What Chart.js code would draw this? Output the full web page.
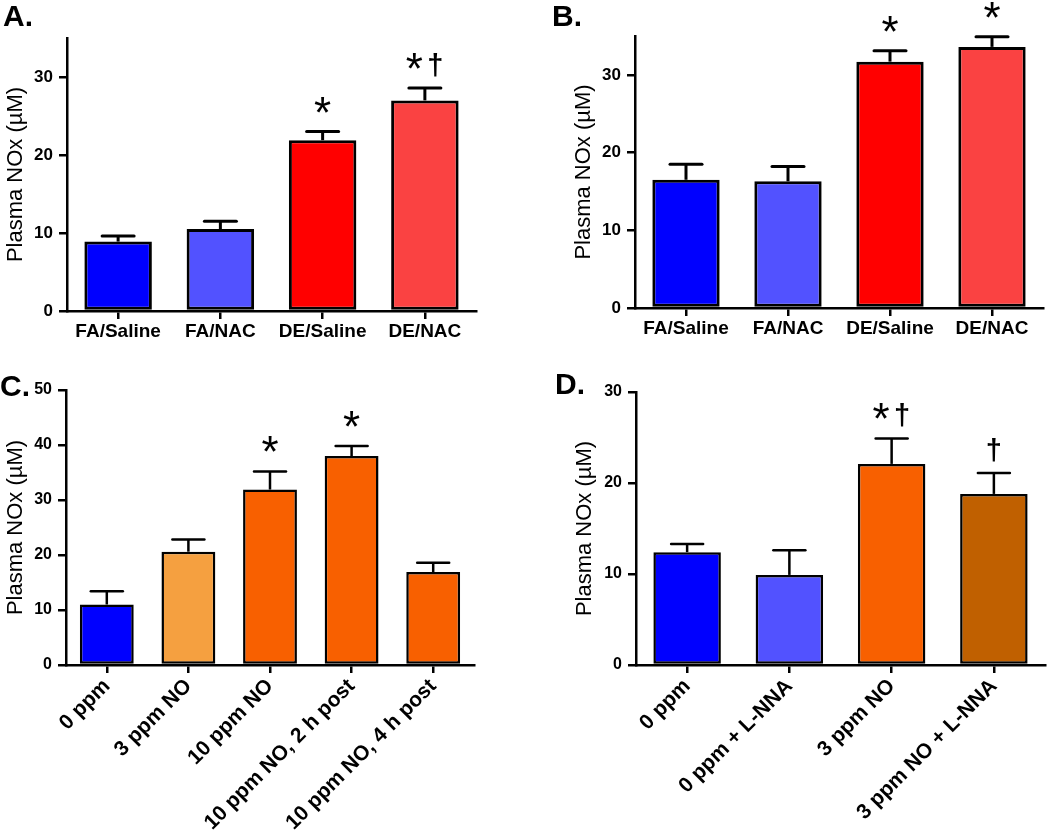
<!DOCTYPE html>
<html>
<head>
<meta charset="utf-8">
<script src="https://cdn.jsdelivr.net/npm/chart.js@4"></script>
<style>
  body { margin: 0; background: #fff; width: 1050px; height: 832px; position: relative; overflow: hidden; }
  .panel { position: absolute; }
  .tag { position: absolute; font: bold 30px/30px 'Liberation Sans', Arial, sans-serif; color: #000; }
</style>
</head>
<body>
<div class="panel" style="left:0;top:0;width:525px;height:350px"><canvas id="chartA"></canvas></div>
<div class="panel" style="left:525px;top:0;width:525px;height:350px"><canvas id="chartB"></canvas></div>
<div class="panel" style="left:0;top:350px;width:525px;height:482px"><canvas id="chartC"></canvas></div>
<div class="panel" style="left:525px;top:350px;width:525px;height:482px"><canvas id="chartD"></canvas></div>
<div class="tag" style="left:3px;top:1px">A.</div>
<div class="tag" style="left:552px;top:1px">B.</div>
<div class="tag" style="left:0px;top:371px">C.</div>
<div class="tag" style="left:555px;top:369px">D.</div>
<script>
// Panels A and B: FA vs DE exposure, saline vs NAC
const labelsAB = ['FA/Saline', 'FA/NAC', 'DE/Saline', 'DE/NAC'];
const meanA = [8.9, 10.5, 21.9, 27.0];
const semA = [0.7, 1.0, 1.1, 1.6];
const markA = ['', '', '*', '*†'];
const meanB = [16.5, 16.3, 31.7, 33.6];
const semB = [2.0, 1.9, 1.4, 1.3];
const markB = ['', '', '*', '*'];

// Panel C: NO exposure time course
const labelsC = ['0 ppm', '3 ppm NO', '10 ppm NO', '10 ppm NO, 2 h post', '10 ppm NO, 4 h post'];
const meanC = [11.0, 20.6, 31.9, 38.0, 16.9];
const semC = [2.4, 2.2, 3.3, 1.8, 1.7];
const markC = ['', '', '*', '*', ''];

// Panel D: L-NNA
const labelsD = ['0 ppm', '0 ppm + L-NNA', '3 ppm NO', '3 ppm NO + L-NNA'];
const meanD = [12.4, 9.9, 22.1, 18.8];
const semD = [0.9, 2.7, 2.8, 2.3];
const markD = ['', '', '*†', '†'];

const colorsAB = ['#0000FF', '#5252FF', '#FF0000', '#FA4242'];
const colorsC = ['#0000FF', '#F5A040', '#F86000', '#F86000', '#F86000'];
const colorsD = ['#0000FF', '#5252FF', '#F86000', '#C06000'];

const FONT = "'Liberation Sans', Arial, sans-serif";

// upper SEM bars + significance marks
const errorBars = {
  id: 'errorBars',
  afterDatasetsDraw(chart) {
    const ds = chart.data.datasets[0];
    const meta = chart.getDatasetMeta(0);
    const y = chart.scales.y;
    const ctx = chart.ctx;
    ctx.save();
    ctx.strokeStyle = '#000';
    ctx.fillStyle = '#000';
    ctx.lineWidth = ds.borderWidth;
    meta.data.forEach((bar, i) => {
      const top = y.getPixelForValue(ds.data[i] + ds.sem[i]);
      ctx.lineCap = 'butt';
      ctx.beginPath();
      ctx.moveTo(bar.x, bar.y);
      ctx.lineTo(bar.x, top);
      ctx.stroke();
      ctx.lineCap = 'round';
      ctx.beginPath();
      ctx.moveTo(bar.x - 16, top);
      ctx.lineTo(bar.x + 16, top);
      ctx.stroke();

      const chars = Array.from(ds.marks[i] || '');
      const step = 21;
      chars.forEach((ch, k) => {
        const cx = bar.x + (k - (chars.length - 1) / 2) * step;
        ctx.font = ch === '*' ? '44px ' + FONT : 'bold 29px ' + FONT;
        ctx.textAlign = 'center';
        ctx.textBaseline = 'alphabetic';
        const m = ctx.measureText(ch);
        ctx.fillText(ch, cx, top - 35 + m.actualBoundingBoxAscent);
      });
    });
    ctx.restore();
  }
};

function makePanel(id, labels, means, sems, marks, colors, box) {
  return new Chart(document.getElementById(id), {
    type: 'bar',
    data: {
      labels: labels,
      datasets: [{
        data: means,
        sem: sems,
        marks: marks,
        backgroundColor: colors,
        borderColor: '#000',
        borderWidth: box.line,
        borderSkipped: false,
        barPercentage: 0.66,
        categoryPercentage: 1
      }]
    },
    options: {
      responsive: true,
      maintainAspectRatio: false,
      animation: false,
      layout: { padding: { left: box.padLeft, top: box.padTop, right: box.padRight, bottom: 0 } },
      plugins: { legend: { display: false }, tooltip: { enabled: false } },
      scales: {
        x: {
          border: { color: '#000', width: 2.5 },
          grid: { display: true, drawOnChartArea: false, offset: false, color: '#000', lineWidth: 2.5, tickLength: 8 },
          ticks: {
            color: '#000',
            autoSkip: false,
            padding: 1,
            maxRotation: box.rot,
            minRotation: box.rot,
            font: { family: FONT, weight: 'bold', size: box.labelSize }
          },
          afterFit: s => { s.height = box.xHeight; }
        },
        y: {
          min: 0,
          max: box.max,
          bounds: 'data',
          border: { color: '#000', width: 2.5 },
          grid: { display: true, drawOnChartArea: false, color: '#000', lineWidth: 2.5, tickLength: 8 },
          ticks: {
            stepSize: 10,
            color: '#000',
            padding: 6,
            font: { family: FONT, weight: 'bold', size: box.tickSize }
          },
          // only the round tens get a tick, the axis may run past the last one
          afterBuildTicks: s => { s.ticks = s.ticks.filter(t => t.value % 10 === 0); },
          title: {
            display: true,
            text: 'Plasma NOx (µM)',
            color: '#000',
            padding: { top: 3, bottom: 0 },
            font: { family: FONT, size: 22 }
          },
          afterFit: s => { s.width = box.yWidth; }
        }
      }
    },
    plugins: [errorBars]
  });
}

makePanel('chartA', labelsAB, meanA, semA, markA, colorsAB,
  { line: 3, padLeft: 0, padTop: 38, padRight: 49, xHeight: 39, yWidth: 67, max: 35, rot: 0, tickSize: 17, labelSize: 19 });
makePanel('chartB', labelsAB, meanB, semB, markB, colorsAB,
  { line: 3, padLeft: 43, padTop: 36, padRight: 7, xHeight: 42, yWidth: 67, max: 35, rot: 0, tickSize: 17, labelSize: 19 });
makePanel('chartC', labelsC, meanC, semC, markC, colorsC,
  { line: 2.5, padLeft: 0, padTop: 40, padRight: 51, xHeight: 167, yWidth: 66, max: 50, rot: 45, tickSize: 16, labelSize: 21 });
makePanel('chartD', labelsD, meanD, semD, markD, colorsD,
  { line: 2.5, padLeft: 44, padTop: 42, padRight: 5, xHeight: 167, yWidth: 67, max: 30, rot: 45, tickSize: 16, labelSize: 21 });
</script>
</body>
</html>
